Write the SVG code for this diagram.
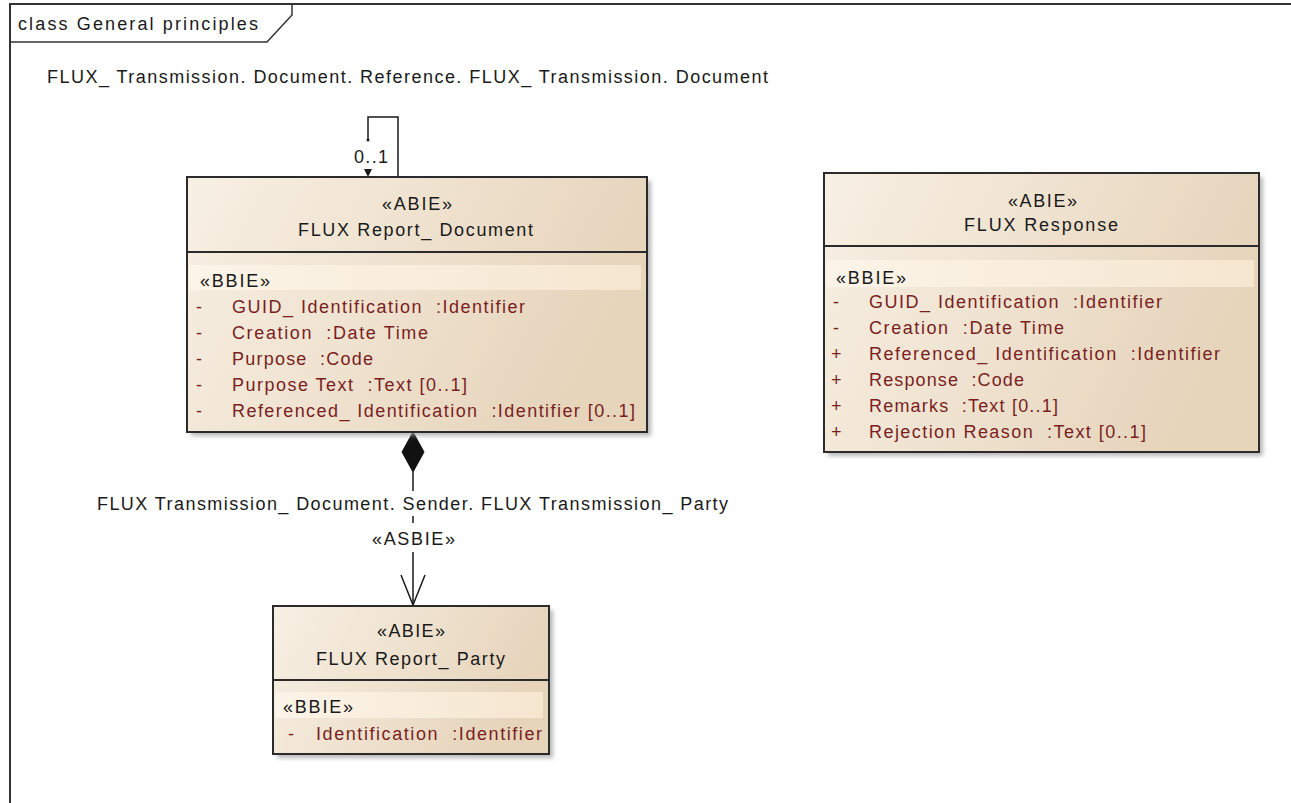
<svg xmlns="http://www.w3.org/2000/svg" width="1291" height="803" viewBox="0 0 1291 803">
<defs>
<linearGradient id="fill" x1="0" y1="0" x2="1" y2="0.3">
<stop offset="0" stop-color="#f8f0e4"/>
<stop offset="1" stop-color="#e6d4bb"/>
</linearGradient>
<linearGradient id="band" x1="0" y1="0" x2="1" y2="0">
<stop offset="0" stop-color="#fcf4e8"/>
<stop offset="1" stop-color="#f5e6d0"/>
</linearGradient>
<filter id="sh" x="-5%" y="-5%" width="115%" height="115%">
<feGaussianBlur stdDeviation="2"/>
</filter>
</defs>
<style>
text{font-family:"Liberation Sans",Arial,sans-serif;font-size:18px;fill:#1a1a1a}
.a{fill:#7a1f1f}
.box{fill:url(#fill);stroke:#2b2b2b;stroke-width:2}
.sep{stroke:#2b2b2b;stroke-width:2}
.shadow{fill:#9a9a9a;filter:url(#sh);opacity:0.7}
.ln{stroke:#1a1a1a;stroke-width:1.5;fill:none}
</style>
<rect width="1291" height="803" fill="#ffffff"/>
<g id="frame">
<path d="M1291,4 H10 V803" fill="none" stroke="#333" stroke-width="2"/>
<path d="M10,42 H267 L292,15 V4" fill="none" stroke="#333" stroke-width="1.5"/>
<text x="18" y="30" textLength="240" lengthAdjust="spacing">class General principles</text>
</g>
<g id="connectors">
<path class="ln" d="M398,177 V117 H368 V140"/>
<circle cx="368" cy="140" r="1.5" fill="#1a1a1a"/>
<path d="M364,169 L372,169 L368,177 Z" fill="#1a1a1a"/>
<text x="354" y="163" textLength="34" lengthAdjust="spacing">0..1</text>
<text x="47" y="83" textLength="721" lengthAdjust="spacing">FLUX_ Transmission. Document. Reference. FLUX_ Transmission. Document</text>
<path class="ln" d="M413,472 V491 M413,516 V523 M413,552 V605"/>
<path d="M413,432 L424,452 L413,472 L402,452 Z" fill="#111" stroke="#111" stroke-width="1"/>
<path class="ln" d="M401,575 L413,605 L425,575"/>
<text x="97" y="510" textLength="631" lengthAdjust="spacing">FLUX Transmission_ Document. Sender. FLUX Transmission_ Party</text>
<text x="372" y="545" textLength="83" lengthAdjust="spacing">«ASBIE»</text>
</g>
<g id="node-report-document">
<rect class="shadow" x="191" y="181" width="460" height="255"/>
<rect class="box" x="187" y="177" width="460" height="255"/>
<rect x="189" y="265" width="452" height="25" fill="url(#band)"/>
<line class="sep" x1="187" y1="252" x2="647" y2="252"/>
<text x="382" y="210" textLength="70" lengthAdjust="spacing">«ABIE»</text>
<text x="298" y="236" textLength="235" lengthAdjust="spacing">FLUX Report_ Document</text>
<text x="200" y="287" textLength="70" lengthAdjust="spacing">«BBIE»</text>
<text x="196" y="313" class="a">-</text>
<text x="232" y="313" class="a" textLength="293" lengthAdjust="spacing">GUID_ Identification&#160; :Identifier</text>
<text x="196" y="339" class="a">-</text>
<text x="232" y="339" class="a" textLength="196" lengthAdjust="spacing">Creation&#160; :Date Time</text>
<text x="196" y="365" class="a">-</text>
<text x="232" y="365" class="a" textLength="141" lengthAdjust="spacing">Purpose&#160; :Code</text>
<text x="196" y="391" class="a">-</text>
<text x="232" y="391" class="a" textLength="235" lengthAdjust="spacing">Purpose Text&#160; :Text [0..1]</text>
<text x="196" y="417" class="a">-</text>
<text x="232" y="417" class="a" textLength="403" lengthAdjust="spacing">Referenced_ Identification&#160; :Identifier [0..1]</text>
</g>
<g id="node-response">
<rect class="shadow" x="828" y="177" width="435" height="279"/>
<rect class="box" x="824" y="173" width="435" height="279"/>
<rect x="826" y="260" width="428" height="27" fill="url(#band)"/>
<line class="sep" x1="824" y1="246" x2="1259" y2="246"/>
<text x="1008" y="207" textLength="69" lengthAdjust="spacing">«ABIE»</text>
<text x="964" y="231" textLength="154" lengthAdjust="spacing">FLUX Response</text>
<text x="836" y="284" textLength="70" lengthAdjust="spacing">«BBIE»</text>
<text x="833" y="308" class="a">-</text>
<text x="869" y="308" class="a" textLength="293" lengthAdjust="spacing">GUID_ Identification&#160; :Identifier</text>
<text x="833" y="334" class="a">-</text>
<text x="869" y="334" class="a" textLength="195" lengthAdjust="spacing">Creation&#160; :Date Time</text>
<text x="831" y="360" class="a">+</text>
<text x="869" y="360" class="a" textLength="351" lengthAdjust="spacing">Referenced_ Identification&#160; :Identifier</text>
<text x="831" y="386" class="a">+</text>
<text x="869" y="386" class="a" textLength="155" lengthAdjust="spacing">Response&#160; :Code</text>
<text x="831" y="412" class="a">+</text>
<text x="869" y="412" class="a" textLength="189" lengthAdjust="spacing">Remarks&#160; :Text [0..1]</text>
<text x="831" y="438" class="a">+</text>
<text x="869" y="438" class="a" textLength="277" lengthAdjust="spacing">Rejection Reason&#160; :Text [0..1]</text>
</g>
<g id="node-report-party">
<rect class="shadow" x="277" y="610" width="276" height="148"/>
<rect class="box" x="273" y="606" width="276" height="148"/>
<rect x="275" y="692" width="268" height="26" fill="url(#band)"/>
<line class="sep" x1="273" y1="680" x2="549" y2="680"/>
<text x="377" y="637" textLength="68" lengthAdjust="spacing">«ABIE»</text>
<text x="316" y="665" textLength="189" lengthAdjust="spacing">FLUX Report_ Party</text>
<text x="283" y="713" textLength="70" lengthAdjust="spacing">«BBIE»</text>
<text x="288" y="740" class="a">-</text>
<text x="316" y="740" class="a" textLength="226" lengthAdjust="spacing">Identification&#160; :Identifier</text>
</g>
</svg>
